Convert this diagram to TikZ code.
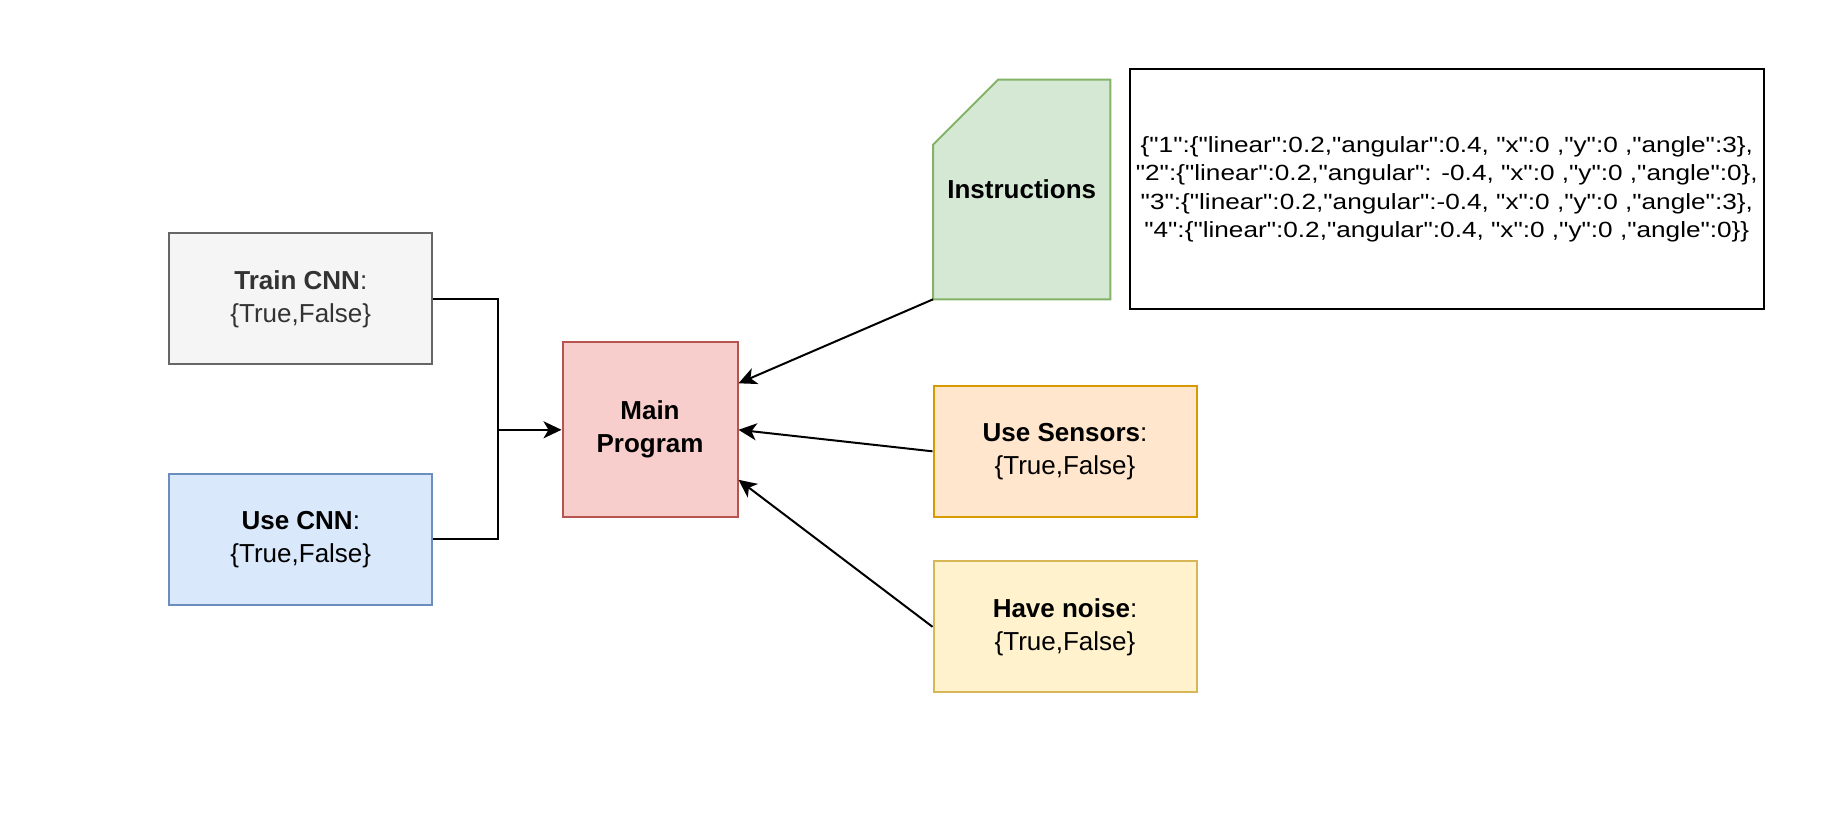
\documentclass[tikz,border=0pt]{standalone}
\usepackage{fontspec}
\setmainfont{Liberation Sans}
\newfontfamily\jsonfont{Liberation Sans}[Ligatures=TeXOff,FakeStretch=1.19]
\usetikzlibrary{arrows.meta,calc}
\definecolor{grayfill}{HTML}{F5F5F5}
\definecolor{graydraw}{HTML}{666666}
\definecolor{graytext}{HTML}{333333}
\definecolor{bluefill}{HTML}{DAE8FC}
\definecolor{bluedraw}{HTML}{6C8EBF}
\definecolor{redfill}{HTML}{F8CECC}
\definecolor{reddraw}{HTML}{B85450}
\definecolor{greenfill}{HTML}{D5E8D4}
\definecolor{greendraw}{HTML}{82B366}
\definecolor{orangefill}{HTML}{FFE6CC}
\definecolor{orangedraw}{HTML}{D79B00}
\definecolor{yellowfill}{HTML}{FFF2CC}
\definecolor{yellowdraw}{HTML}{D6B656}
\tikzset{
  box/.style={draw, rectangle, line width=1pt, minimum width=131.5pt, minimum height=65.5pt,
    align=center, font=\fontsize{13}{16.5}\selectfont, inner sep=0pt},
  conn/.style={line width=1pt, draw=black},
  arr/.style={conn, -{Stealth[length=9pt,width=8.5pt,inset=2.5pt]}},
}
\begin{document}
\begin{tikzpicture}[x=0.5pt,y=-0.5pt]
\useasboundingbox[fill=white] (0,0) rectangle (1840,826);
\node[box, fill=grayfill, draw=graydraw, text=graytext] (train) at (300.8,298.8) {\textbf{Train CNN}:\\\{True,False\}};
\node[box, fill=bluefill, draw=bluedraw] (usecnn) at (300.8,539.2) {\textbf{Use CNN}:\\\{True,False\}};
\node[box, fill=redfill, draw=reddraw, minimum width=87.5pt, minimum height=87.5pt] (main) at (650,429.8) {\textbf{Main}\\\textbf{Program}};
\node[box, draw=none, minimum width=87.6pt, minimum height=108.8pt] (instr) at (1021.7,189.5) {};
\filldraw[line width=1pt, fill=greenfill, draw=greendraw]
  (instr.south west) -- ([yshift=-32.5pt]instr.north west) -- ([xshift=32.5pt]instr.north west)
  -- (instr.north east) -- (instr.south east) -- cycle;
\node[font=\fontsize{13}{16.5}\selectfont] (instrtext) at (instr.center) {\textbf{Instructions}};
\node[box, minimum width=316.75pt, minimum height=120pt, font=\jsonfont\fontsize{11}{14.2}\selectfont] (json) at (1446.8,189.4)
  {\{"1":\{"linear":0.2,"angular":0.4, "x":0 ,"y":0 ,"angle":3\},\\
   "2":\{"linear":0.2,"angular": -0.4, "x":0 ,"y":0 ,"angle":0\},\\
   "3":\{"linear":0.2,"angular":-0.4, "x":0 ,"y":0 ,"angle":3\},\\
   "4":\{"linear":0.2,"angular":0.4, "x":0 ,"y":0 ,"angle":0\}\}};
\node[box, fill=orangefill, draw=orangedraw] (sensors) at (1065,451.3) {\textbf{Use Sensors}:\\\{True,False\}};
\node[box, fill=yellowfill, draw=yellowdraw] (noise) at (1065,626.8) {\textbf{Have noise}:\\\{True,False\}};
\coordinate (j) at (497.7,429.8);
\draw[conn] (train.east) -| (j);
\draw[conn] (usecnn.east) -| (j);
\draw[arr] (j) -- (main.west);
\draw[arr] (instr.south west) -- ([yshift=23.25pt]main.east);
\draw[arr] (sensors.west) -- (main.east);
\draw[arr] (noise.west) -- ([yshift=-25pt]main.east);
\end{tikzpicture}
\end{document}
